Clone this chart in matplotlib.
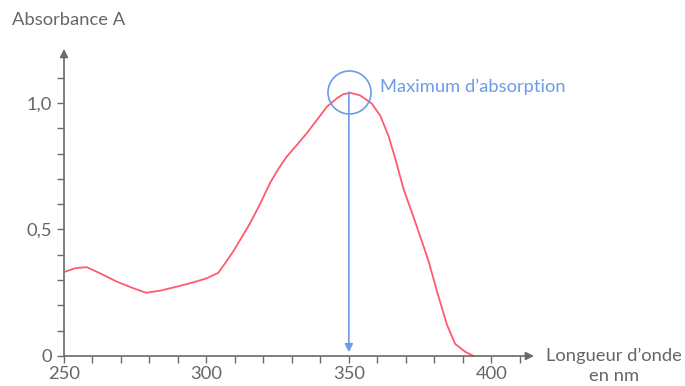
import numpy as np
import matplotlib.pyplot as plt
from matplotlib.ticker import FixedLocator

plt.rcParams['font.family'] = ['Lato', 'DejaVu Sans']

# spectrum
wavelength = [250.4, 253.9, 258, 262.6, 268.5, 274.3, 278.8, 283.7, 289.6, 295.4,
              300.1, 304.2, 307.1, 309.5, 311.8, 315.3, 318.8, 322.4, 325.3, 328.2,
              331.7, 335.2, 338.8, 342.3, 345.8, 348, 350.4, 353.9, 358.0, 361,
              363.9, 366.3, 369.2, 373.3, 378, 380.9, 384.4, 387.3, 390.8, 393.8]
absorbance = [0.333, 0.347, 0.351, 0.327, 0.294, 0.268, 0.250, 0.258, 0.274, 0.291,
              0.307, 0.329, 0.375, 0.415, 0.458, 0.524, 0.60, 0.685, 0.74, 0.788,
              0.833, 0.88, 0.933, 0.985, 1.018, 1.034, 1.04, 1.03, 0.998, 0.95,
              0.87, 0.78, 0.66, 0.53, 0.375, 0.257, 0.125, 0.048, 0.017, 0.0]

lambda_max = 350
a_max = 1.043
yticks = [0, 0.5, 1.0]
ytick_labels = ["0", "0,5", "1,0"]
xticks = [250, 300, 350, 400]

red = "#ff5a6e"
blue = "#6d9be6"
gray = "#6a6a6a"
txt = "#666666"
fs = 13.2

fig = plt.figure(figsize=(6.85, 3.86), dpi=100)
ax = fig.add_axes([64 / 685, 30 / 386, 470 / 685, 307 / 386])
ax.set_xlim(250, 415)
ax.set_ylim(0, 1.213)
for s in ax.spines.values():
    s.set_visible(False)

# axes with arrows
ax.annotate("", xy=(415, 0), xytext=(250, 0), annotation_clip=False,
            arrowprops=dict(arrowstyle="-|>", color=gray, lw=1.2, mutation_scale=12,
                            shrinkA=0, shrinkB=0))
ax.annotate("", xy=(250, 1.213), xytext=(250, 0), annotation_clip=False,
            arrowprops=dict(arrowstyle="-|>", color=gray, lw=1.2, mutation_scale=12,
                            shrinkA=0, shrinkB=0))

ax.xaxis.set_major_locator(FixedLocator(xticks))
ax.xaxis.set_minor_locator(FixedLocator(np.arange(260, 411, 10)))
ax.yaxis.set_major_locator(FixedLocator(yticks))
ax.yaxis.set_minor_locator(FixedLocator(np.arange(0.1, 1.15, 0.1)))
ax.set_yticklabels(ytick_labels)
ax.tick_params(which="both", direction="out", length=5, width=1, color=gray,
               labelcolor=txt, labelsize=fs)
ax.tick_params(axis="x", pad=2)

ax.plot(wavelength, absorbance, color=red, lw=1.3, clip_on=False)

# maximum marker
ax.annotate("", xy=(lambda_max, 0.015), xytext=(lambda_max, a_max),
            arrowprops=dict(arrowstyle="-|>", color=blue, lw=1.2, mutation_scale=12,
                            shrinkA=0, shrinkB=0))
ax.plot([lambda_max], [a_max], "o", ms=31, mfc="none", mec=blue, mew=1.2, clip_on=False)
ax.text(361, a_max + 0.02, "Maximum d\u2019absorption", color=blue, fontsize=fs,
        va="center", ha="left")

fig.text(12 / 685, 1 - 20 / 386, "Absorbance A", color=txt, fontsize=fs,
         va="center", ha="left")
fig.text(614 / 685, 1 - 366 / 386, "Longueur d\u2019onde\nen nm", color=txt, fontsize=fs,
         va="center", ha="center", multialignment="center", linespacing=1.3)

fig.savefig("out.png", dpi=100)
